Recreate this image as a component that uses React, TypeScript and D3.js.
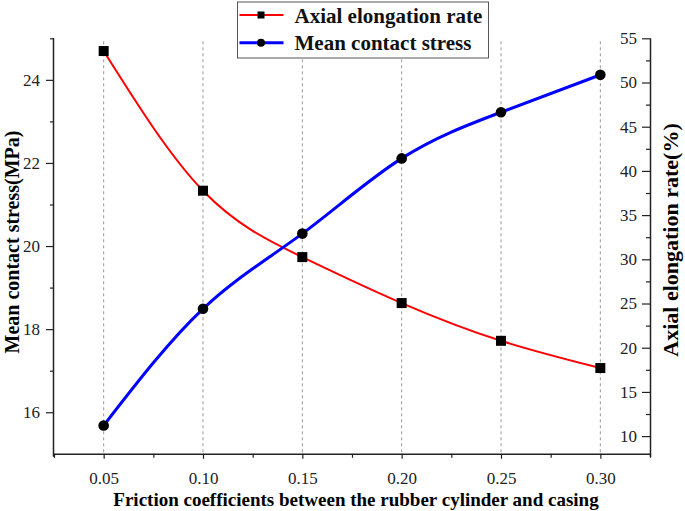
import React, { useEffect, useRef } from 'react';
import * as d3 from 'd3';

// friction coefficient (x) and the two measured series
const frictionCoefs = [0.05, 0.1, 0.15, 0.2, 0.25, 0.3];
const meanContactStress = [15.68, 18.49, 20.3, 22.11, 23.22, 24.12];
const axialElongation = [53.56, 37.76, 30.25, 25.05, 20.78, 17.7];

const xTicks = [0.05, 0.1, 0.15, 0.2, 0.25, 0.3];
const xMinorTicks = [0.025, 0.075, 0.125, 0.175, 0.225, 0.275, 0.325];
const leftTicks = [16, 18, 20, 22, 24];
const leftMinorTicks = [17, 19, 21, 23, 25];
const rightTicks = [10, 15, 20, 25, 30, 35, 40, 45, 50, 55];
const rightMinorTicks = [12.5, 17.5, 22.5, 27.5, 32.5, 37.5, 42.5, 47.5, 52.5];

const FONT = "'Liberation Serif', 'Times New Roman', serif";

const App: React.FC = () => {
  const svgRef = useRef<SVGSVGElement>(null);

  useEffect(() => {
    if (!svgRef.current) return;
    const svg = d3.select(svgRef.current);
    svg.selectAll('*').remove();

    const width = 685;
    const height = 511;
    const left = 54;
    const right = 650;
    const top = 38.3;
    const bottom = 453.8;

    svg.append('rect').attr('width', width).attr('height', height).style('fill', '#fff');

    const x = d3.scaleLinear().domain([0.025, 0.325]).range([left, right]);
    const yLeft = d3.scaleLinear().domain([15, 25]).range([bottom, top]);
    const yRight = d3.scaleLinear().domain([8, 55]).range([bottom, top]);

    // vertical dashed grid
    svg.append('g')
      .selectAll('line')
      .data(xTicks)
      .enter().append('line')
      .attr('x1', d => x(d)).attr('x2', d => x(d))
      .attr('y1', top + 3).attr('y2', bottom)
      .style('stroke', '#999')
      .style('stroke-width', 1)
      .style('stroke-dasharray', '3,3');

    // x axis
    svg.append('g').attr('transform', `translate(0,${bottom})`)
      .call(d3.axisBottom(x).tickValues(xMinorTicks).tickSize(4).tickFormat(() => ''))
      .call(g => g.select('.domain').remove());
    const xMajor = svg.append('g').attr('transform', `translate(0,${bottom})`)
      .call(d3.axisBottom(x).tickValues(xTicks).tickSize(5).tickPadding(13).tickFormat(d3.format('.2f')));
    xMajor.select('.domain').attr('d', `M${left},0.5H${right}`);

    // left axis
    svg.append('g').attr('transform', `translate(${left},0)`)
      .call(d3.axisLeft(yLeft).tickValues(leftMinorTicks).tickSize(4).tickFormat(() => ''))
      .call(g => g.select('.domain').remove());
    const yl = svg.append('g').attr('transform', `translate(${left},0)`)
      .call(d3.axisLeft(yLeft).tickValues(leftTicks).tickSize(8).tickPadding(6));
    yl.select('.domain').attr('d', `M-0.5,${top}V${bottom + 3}`);

    // right axis, ticks and labels inside
    svg.append('g').attr('transform', `translate(${right},0)`)
      .call(d3.axisLeft(yRight).tickValues(rightMinorTicks).tickSize(4).tickFormat(() => ''))
      .call(g => g.select('.domain').remove());
    const yr = svg.append('g').attr('transform', `translate(${right},0)`)
      .call(d3.axisLeft(yRight).tickValues(rightTicks).tickSize(8).tickPadding(5));
    yr.select('.domain').attr('d', `M0.5,${top}V${bottom + 3}`);

    svg.selectAll('g').attr('font-family', null);
    svg.selectAll('.tick line').style('stroke', '#222').style('stroke-width', 1.2);
    svg.selectAll('.domain').style('stroke', '#222').style('stroke-width', 1.5);
    svg.selectAll('.tick text')
      .attr('font-family', FONT)
      .attr('font-size', 17)
      .style('fill', '#222');

    // axis titles
    svg.append('text')
      .attr('x', (left + right) / 2 + 4)
      .attr('y', 506)
      .attr('text-anchor', 'middle')
      .attr('font-family', FONT)
      .attr('font-size', 19)
      .attr('font-weight', 'bold')
      .text('Friction coefficients between the rubber cylinder and casing');

    svg.append('text')
      .attr('transform', 'translate(19,242) rotate(-90)')
      .attr('text-anchor', 'middle')
      .attr('font-family', FONT)
      .attr('font-size', 20)
      .attr('font-weight', 'bold')
      .text('Mean contact stress(MPa)');

    svg.append('text')
      .attr('transform', 'translate(678,240) rotate(-90)')
      .attr('text-anchor', 'middle')
      .attr('font-family', FONT)
      .attr('font-size', 22)
      .attr('font-weight', 'bold')
      .text('Axial elongation rate(%)');

    // lines
    const stressLine = d3.line<number>()
      .x((_, i) => x(frictionCoefs[i]))
      .y(d => yLeft(d))
      .curve(d3.curveNatural);
    const elongLine = d3.line<number>()
      .x((_, i) => x(frictionCoefs[i]))
      .y(d => yRight(d))
      .curve(d3.curveNatural);

    svg.append('path')
      .attr('d', elongLine(axialElongation))
      .style('fill', 'none')
      .style('stroke', '#ff0000')
      .style('stroke-width', 2);

    svg.append('path')
      .attr('d', stressLine(meanContactStress))
      .style('fill', 'none')
      .style('stroke', '#0000ff')
      .style('stroke-width', 3);

    // markers
    svg.append('g')
      .selectAll('rect')
      .data(axialElongation)
      .enter().append('rect')
      .attr('x', (_, i) => x(frictionCoefs[i]) - 5)
      .attr('y', d => yRight(d) - 5)
      .attr('width', 10)
      .attr('height', 10)
      .style('fill', '#000');

    svg.append('g')
      .selectAll('circle')
      .data(meanContactStress)
      .enter().append('circle')
      .attr('cx', (_, i) => x(frictionCoefs[i]))
      .attr('cy', d => yLeft(d))
      .attr('r', 5.3)
      .style('fill', '#000');

    // legend
    const legend = svg.append('g').attr('transform', 'translate(237.5,2)');
    legend.append('rect')
      .attr('width', 251)
      .attr('height', 56)
      .style('fill', '#fff')
      .style('stroke', '#555')
      .style('stroke-width', 1);

    const legendData = [
      { name: 'Axial elongation rate', color: '#ff0000', shape: 'square', width: 2 },
      { name: 'Mean contact stress', color: '#0000ff', shape: 'circle', width: 3 },
    ];
    const items = legend.selectAll('.legend-item')
      .data(legendData)
      .enter().append('g')
      .attr('class', 'legend-item')
      .attr('transform', (_, i) => `translate(0,${13 + i * 27.7})`);

    items.append('line')
      .attr('x1', 2).attr('x2', 46)
      .style('stroke', d => d.color)
      .style('stroke-width', d => d.width);
    items.filter(d => d.shape === 'square').append('rect')
      .attr('x', 20).attr('y', -3.5).attr('width', 7).attr('height', 7)
      .style('fill', '#000');
    items.filter(d => d.shape === 'circle').append('circle')
      .attr('cx', 23.5).attr('r', 4)
      .style('fill', '#000');
    items.append('text')
      .attr('x', 57)
      .attr('y', 7.5)
      .attr('font-family', FONT)
      .attr('font-size', 21)
      .attr('font-weight', 'bold')
      .style('fill', '#111')
      .text(d => d.name);
  }, []);

  return (
    <div style={{ position: 'absolute', left: 0, top: 0 }}>
      <svg ref={svgRef} width={685} height={511} style={{ display: 'block', fontFamily: FONT }}></svg>
    </div>
  );
};

export default App;
